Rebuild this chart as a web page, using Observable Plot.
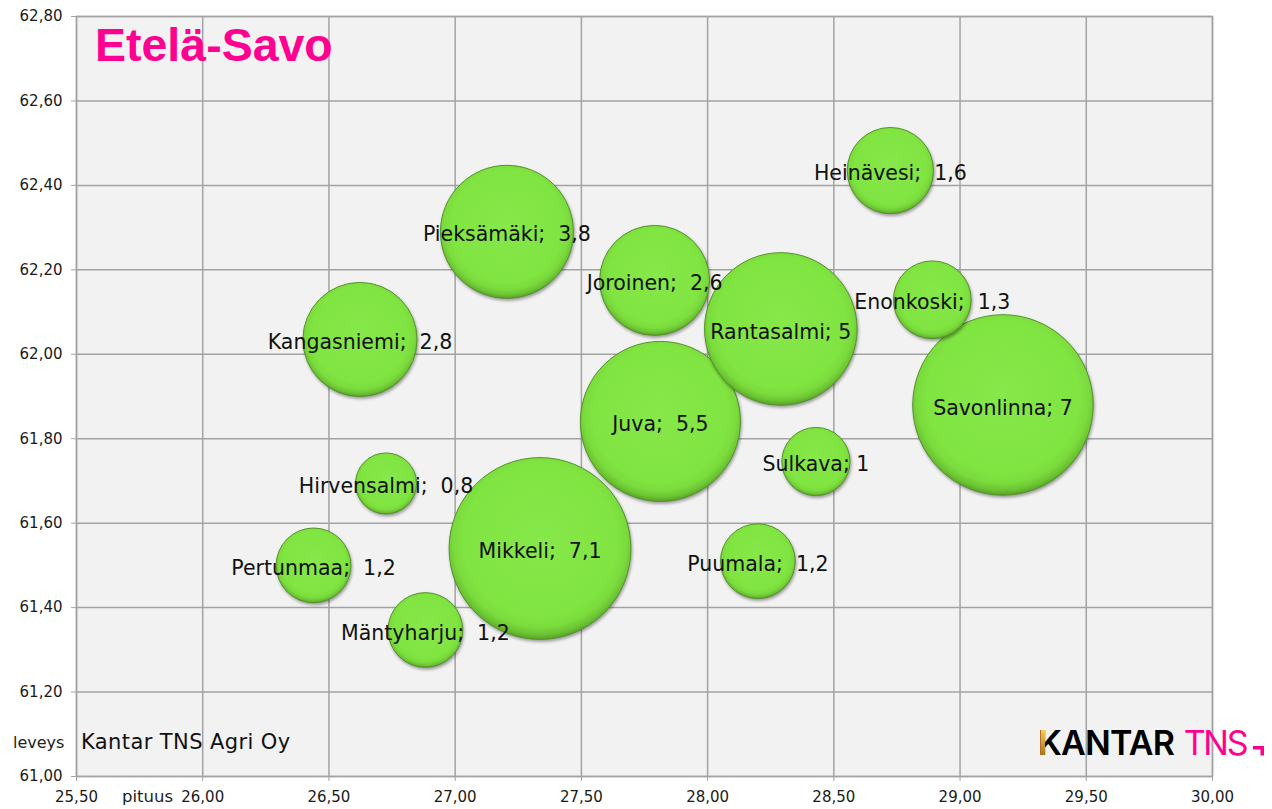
<!DOCTYPE html>
<html>
<head>
<meta charset="utf-8">
<script src="https://cdn.jsdelivr.net/npm/d3@7"></script>
<script src="https://cdn.jsdelivr.net/npm/@observablehq/plot@0.6"></script>
<style>
  html, body { margin: 0; padding: 0; background: #ffffff; }
  #wrap { position: relative; width: 1272px; height: 809px; overflow: hidden; }
  #wrap svg text { white-space: pre; }
  .abs { position: absolute; white-space: pre; line-height: 1; z-index: 2; }
</style>
</head>
<body>
<div id="wrap">
  <div class="abs" style="left:95px;top:22px;font-family:'Liberation Sans',Arial,sans-serif;font-weight:bold;font-size:46.5px;color:#ff0090;">Etelä-Savo</div>
  <div class="abs" style="left:81px;top:732px;font-family:'DejaVu Sans',sans-serif;font-size:21px;letter-spacing:0.4px;color:#111;">Kantar TNS Agri Oy</div>
  <div class="abs" style="left:13px;top:735px;font-family:'DejaVu Sans',sans-serif;font-size:16px;color:#222;">leveys</div>
  <div class="abs" style="left:122px;top:789px;font-family:'DejaVu Sans',sans-serif;font-size:16.5px;color:#222;">pituus</div>
  <div class="abs" style="left:1038px;top:726px;font-family:Inter,Lato,sans-serif;font-size:34px;color:#000;"><span style="font-weight:600;letter-spacing:-0.8px;">KANTAR</span> <span style="color:#ff0090;font-weight:400;letter-spacing:-2.2px;">TNS</span></div>
  <div class="abs" style="left:1041px;top:730px;width:4px;height:25px;background:linear-gradient(#f5cf55,#a07a18);z-index:3;"></div>
  <svg class="abs" style="left:1253px;top:746px;" width="12" height="12" viewBox="0 0 12 12">
    <path d="M0 0 H11 V9.5 H7.5 V3.5 H0 Z" fill="#ff0090"/>
  </svg>
  <div id="chart"></div>
</div>
<script>
// Municipalities of Etelä-Savo: longitude (pituus), latitude (leveys), bubble size value
const names = ["Savonlinna", "Mikkeli", "Juva", "Rantasalmi", "Pieksämäki", "Kangasniemi", "Joroinen",
               "Heinävesi", "Enonkoski", "Sulkava", "Puumala", "Pertunmaa", "Mäntyharju", "Hirvensalmi"];
const lon = [29.17, 27.336, 27.813, 28.29, 27.205, 26.623, 27.79,
             28.724, 28.89, 28.429, 28.199, 26.439, 26.882, 26.726];
const lat = [61.88, 61.54, 61.841, 62.06, 62.29, 62.035, 62.175,
             62.435, 62.129, 61.746, 61.51, 61.50, 61.347, 61.694];
const size = [7, 7.1, 5.5, 5, 3.8, 2.8, 2.6, 1.6, 1.3, 1, 1.2, 1.2, 1.2, 0.8];

const xTicks = [25.5, 26, 26.5, 27, 27.5, 28, 28.5, 29, 29.5, 30];
const yTicks = [61, 61.2, 61.4, 61.6, 61.8, 62, 62.2, 62.4, 62.6, 62.8];

const data = names.map((n, i) => ({name: n, x: lon[i], y: lat[i], v: size[i]}));
const fmt = d => d.toFixed(2).replace(".", ",");
const lab = d => Number.isInteger(d.v)
  ? `${d.name}; ${d.v}`
  : `${d.name};  ${String(d.v).replace(".", ",")}`;

const chart = Plot.plot({
  width: 1272,
  height: 809,
  marginLeft: 76,
  marginRight: 60,
  marginTop: 16,
  marginBottom: 33,
  style: {fontFamily: "'DejaVu Sans', sans-serif", fontSize: "15px", color: "#1a1a1a", background: "transparent"},
  x: {domain: [25.5, 30]},
  y: {domain: [61, 62.8]},
  r: {type: "sqrt", domain: [0, 7.1], range: [0, 90.9]},
  marks: [
    Plot.frame({fill: "#f2f2f2"}),
    Plot.gridX(xTicks, {stroke: "#a3a3a3", strokeOpacity: 1, strokeWidth: 1.5}),
    Plot.gridY(yTicks, {stroke: "#a3a3a3", strokeOpacity: 1, strokeWidth: 1.5}),
    Plot.frame({stroke: "#a3a3a3", strokeWidth: 1.5}),
    Plot.axisX(xTicks, {tickSize: 5, tickPadding: 10, tickFormat: fmt, stroke: "#a3a3a3", fill: "#1a1a1a", label: null}),
    Plot.axisY(yTicks, {tickSize: 5, tickPadding: 9, tickFormat: fmt, stroke: "#a3a3a3", fill: "#1a1a1a", label: null}),
    Plot.dot(data, {x: "x", y: "y", r: "v", fill: "url(#bubbleGrad)", stroke: "#54922a", strokeWidth: 1,
                    sort: {channel: "r", order: "descending"}}),
    Plot.text(data, {x: "x", y: "y", text: lab, fontSize: 20.5, fill: "#111", dy: 3,
                     fontFamily: "'DejaVu Sans', sans-serif", letterSpacing: "0.7px"})
  ]
});

const svg = d3.select(chart);
const defs = svg.insert("defs", ":first-child");
const g = defs.append("radialGradient").attr("id", "bubbleGrad")
  .attr("cx", "50%").attr("cy", "46%").attr("r", "54%").attr("fx", "50%").attr("fy", "44%");
[[0, "#86e84a"], [0.78, "#80e441"], [0.88, "#7bdc3d"], [0.95, "#6cc433"], [1, "#56a126"]]
  .forEach(([o, c]) => g.append("stop").attr("offset", o).attr("stop-color", c));
svg.selectAll("circle").style("filter", "drop-shadow(1.5px 2.5px 1.5px rgba(0,0,0,0.35))");
svg.style("position", "absolute").style("left", "0").style("top", "0");

document.getElementById("chart").appendChild(chart);
</script>
</body>
</html>
